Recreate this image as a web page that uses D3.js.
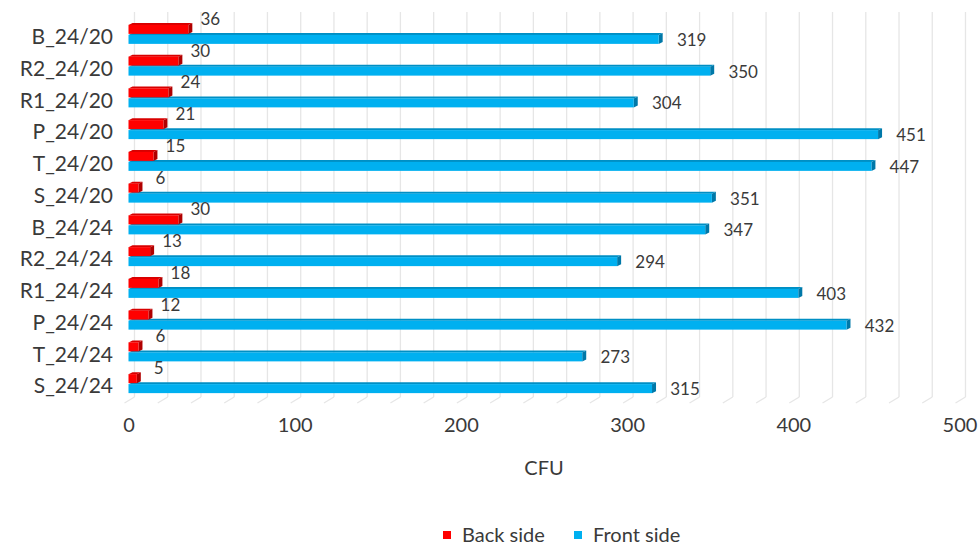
<!DOCTYPE html>
<html>
<head>
<meta charset="utf-8">
<script src="https://cdn.jsdelivr.net/npm/d3@7"></script>
<style>
  html, body { margin: 0; padding: 0; background: #ffffff; }
  svg { display: block; font-family: Lato, "Open Sans", sans-serif; }
</style>
</head>
<body>
<svg id="chart" width="979" height="546"></svg>
<script>
// Colony counts per sample, back vs front side
const categories = ["B_24/20", "R2_24/20", "R1_24/20", "P_24/20", "T_24/20", "S_24/20",
                    "B_24/24", "R2_24/24", "R1_24/24", "P_24/24", "T_24/24", "S_24/24"];
const backSide  = [36, 30, 24, 21, 15, 6, 30, 13, 18, 12, 6, 5];
const frontSide = [319, 350, 304, 451, 447, 351, 347, 294, 403, 432, 273, 315];
const seriesNames = ["Back side", "Front side"];
const xTickValues = [0, 100, 200, 300, 400, 500];
const xTitle = "CFU";

const svg = d3.select("#chart");
const textColor = "#3a3a3a";

// 3D depth offsets
const depthX = 4, depthY = 2;

const x = d3.scaleLinear().domain([0, 500]).range([128.5, 959.5]);
const y = d3.scaleBand().domain(categories).range([17, 398]).padding(0);
const inner = d3.scaleBand().domain(seriesNames).range([-10, 10]).padding(0);

const palette = {
  "Back side":  { front: "#ff0000", top: "#d80000", side: "#b00000" },
  "Front side": { front: "#00b0f0", top: "#008fc4", side: "#0078a8" }
};

// Back wall gridlines and floor ticks
const grid = svg.append("g");
const gridVals = d3.range(0, 501, 20);
const wallTop = 12, floorBack = 397, floorFront = 403;
grid.selectAll("line.wall").data(gridVals).join("line")
  .attr("x1", d => x(d) + depthX + 2).attr("x2", d => x(d) + depthX + 2)
  .attr("y1", wallTop).attr("y2", floorBack)
  .attr("stroke", "#e6e6e6").attr("stroke-width", 1.3);
grid.selectAll("line.floor").data(gridVals).join("line")
  .attr("x1", d => x(d) - 4).attr("y1", floorFront)
  .attr("x2", d => x(d) + depthX + 2).attr("y2", floorBack)
  .attr("stroke", "#e6e6e6").attr("stroke-width", 1.3);

// Bars: front face, top face and end face
function bar3d(g, v, top, h, colors) {
  const x0 = x(0), x1 = x(v);
  const t = top + depthY;
  g.append("polygon")
    .attr("points", [[x0, t], [x0 + depthX, top], [x1 + depthX, top], [x1, t]].join(" "))
    .attr("fill", colors.top);
  g.append("polygon")
    .attr("points", [[x1, t], [x1 + depthX, top], [x1 + depthX, top + h], [x1, t + h]].join(" "))
    .attr("fill", colors.side);
  g.append("rect")
    .attr("x", x0).attr("y", t).attr("width", x1 - x0).attr("height", h)
    .attr("fill", colors.front);
  return t;
}

const rows = svg.append("g").selectAll("g.row").data(categories).join("g").attr("class", "row");
rows.each(function (cat, i) {
  const g = d3.select(this);
  const center = y(cat) + y.bandwidth() / 2;
  const h = 9;
  // front side (lower bar)
  const fTop = center + inner("Front side");
  bar3d(g, frontSide[i], fTop, h, palette["Front side"]);
  // back side (upper bar)
  const bTop = center + inner("Back side");
  bar3d(g, backSide[i], bTop, h, palette["Back side"]);

  g.append("text")
    .attr("x", x(backSide[i]) + depthX + 18).attr("y", bTop - 4)
    .attr("text-anchor", "middle").attr("dy", "0.35em")
    .attr("font-size", 17).attr("fill", textColor)
    .text(backSide[i]);
  g.append("text")
    .attr("x", x(frontSide[i]) + depthX + 29).attr("y", fTop + 7)
    .attr("text-anchor", "middle").attr("dy", "0.35em")
    .attr("font-size", 17).attr("fill", textColor)
    .text(frontSide[i]);
});

// Category labels
svg.append("g").selectAll("text").data(categories).join("text")
  .attr("x", 113)
  .attr("y", d => y(d) + y.bandwidth() / 2 + 4)
  .attr("text-anchor", "end").attr("dy", "0.35em")
  .attr("font-size", 21).attr("fill", textColor)
  .text(d => d);

// Value axis
const xAxis = svg.append("g")
  .attr("transform", "translate(0, 418)")
  .call(d3.axisBottom(x).tickValues(xTickValues).tickSize(0).tickPadding(0));
xAxis.select(".domain").remove();
xAxis.selectAll("text")
  .attr("font-family", "Lato, sans-serif")
  .attr("font-size", 20).attr("fill", textColor);

svg.append("text")
  .attr("x", x(250)).attr("y", 468)
  .attr("text-anchor", "middle").attr("dy", "0.35em")
  .attr("font-size", 20).attr("fill", textColor)
  .text(xTitle);

// Legend
const legendItems = [
  { name: seriesNames[0], color: palette["Back side"].front, x: 443 },
  { name: seriesNames[1], color: palette["Front side"].front, x: 574 }
];
const legend = svg.append("g");
legendItems.forEach(item => {
  legend.append("rect")
    .attr("x", item.x).attr("y", 531).attr("width", 8).attr("height", 8)
    .attr("fill", item.color);
  legend.append("text")
    .attr("x", item.x + 19).attr("y", 535)
    .attr("dy", "0.35em")
    .attr("font-size", 20).attr("fill", textColor)
    .text(item.name);
});
</script>
</body>
</html>
